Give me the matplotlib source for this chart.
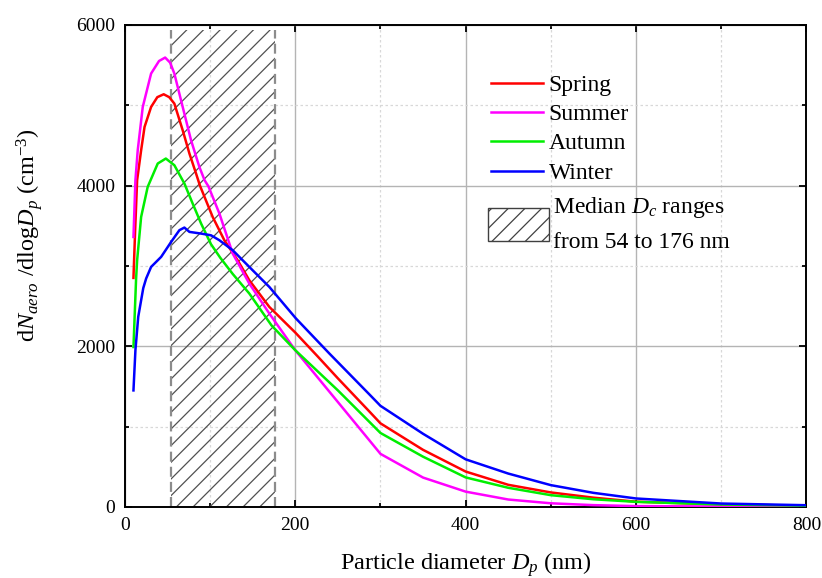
import matplotlib
matplotlib.use("Agg")
import matplotlib.pyplot as plt
from matplotlib.patches import Rectangle, Patch
from matplotlib.ticker import MultipleLocator

plt.rcParams["font.family"] = "Liberation Serif"
plt.rcParams["mathtext.fontset"] = "custom"
plt.rcParams["mathtext.rm"] = "Liberation Serif"
plt.rcParams["mathtext.it"] = "Liberation Serif:italic"
plt.rcParams["hatch.linewidth"] = 0.9

# particle size distributions
spring_x = [10, 12, 14.3, 19, 23, 30.7, 38, 45.5, 52, 58, 67.8, 75.7, 83.5, 88, 103, 116.7,
            132.3, 146, 169.5, 200, 226, 250, 287, 300, 350, 400, 450, 500, 550, 600, 700, 800]
spring_y = [2850, 3450, 4066, 4439, 4729, 4978, 5100, 5136, 5100, 5020, 4688, 4398, 4149, 4000,
            3609, 3319, 3070, 2821, 2489, 2170, 1876, 1600, 1187, 1040, 710, 440, 275, 180, 115,
            65, 30, 15]

summer_x = [10, 12.3, 15, 20.9, 30.7, 40, 47.2, 53, 58, 67.8, 77.6, 87.4, 93.5, 98, 110.9,
            126.5, 146, 169.5, 200, 250, 287, 300, 350, 400, 450, 500, 550, 600, 700, 800]
summer_y = [3360, 4066, 4439, 4978, 5394, 5550, 5593, 5530, 5394, 4978, 4564, 4231, 4066, 3990,
            3651, 3154, 2780, 2407, 1950, 1305, 828, 660, 365, 190, 92, 45, 22, 10, 5, 3]

autumn_x = [10, 13.1, 14.3, 19, 26.7, 38.5, 48, 58, 69.8, 79.5, 89.4, 101, 112, 126.5, 146,
            172, 200, 250, 287, 300, 350, 400, 450, 500, 550, 600, 700, 800]
autumn_y = [1990, 2843, 3070, 3609, 3983, 4274, 4336, 4253, 4025, 3776, 3527, 3270, 3100, 2900,
            2656, 2260, 1950, 1450, 1058, 920, 625, 367, 238, 146, 95, 63, 30, 15]

winter_x = [10, 12.3, 15.6, 21.5, 24.9, 30.7, 42.5, 54.2, 63.9, 69.8, 75.7, 89.4, 101, 110.9,
            126.5, 146, 169.5, 200.8, 240, 287, 300, 350, 400, 450, 500, 550, 600, 700, 800]
winter_y = [1450, 1950, 2366, 2723, 2843, 2987, 3112, 3298, 3444, 3477, 3423, 3402, 3381, 3319,
            3195, 2987, 2738, 2345, 1909, 1400, 1258, 910, 592, 415, 271, 175, 105, 42, 21]

dc_low, dc_high = 54, 176
dc_top = 5940

fig, ax = plt.subplots(figsize=(8.22, 5.78), dpi=100)
fig.subplots_adjust(left=0.152, right=0.981, bottom=0.123, top=0.957)

ax.set_xlim(0, 800)
ax.set_ylim(0, 6000)
ax.xaxis.set_major_locator(MultipleLocator(200))
ax.xaxis.set_minor_locator(MultipleLocator(100))
ax.yaxis.set_major_locator(MultipleLocator(2000))
ax.yaxis.set_minor_locator(MultipleLocator(1000))
ax.grid(which="major", color="#b4b4b4", lw=1.0)
ax.grid(which="minor", color="#d8d8d8", lw=0.9, ls=(0, (2, 2)))
ax.set_axisbelow(True)
ax.tick_params(which="both", direction="in", top=True, right=True, labelsize=14, width=1.3)
ax.tick_params(which="major", length=5, pad=7)
ax.tick_params(which="minor", length=3)
for sp in ax.spines.values():
    sp.set_linewidth(1.4)

# median Dc range
ax.add_patch(Rectangle((dc_low, 0), dc_high - dc_low, dc_top, fill=False, hatch="//",
                       edgecolor="#505050", lw=0, zorder=1))
ax.vlines([dc_low, dc_high], 0, dc_top, colors="#8c8c8c", lw=1.6,
          linestyles=(0, (4.5, 2.3)), zorder=1)

ax.plot(spring_x, spring_y, color="#ff0000", lw=1.8, label="Spring", zorder=3)
ax.plot(summer_x, summer_y, color="#ff00ff", lw=1.8, label="Summer", zorder=3)
ax.plot(autumn_x, autumn_y, color="#00ee00", lw=1.8, label="Autumn", zorder=3)
ax.plot(winter_x, winter_y, color="#0000ff", lw=1.8, label="Winter", zorder=3)

leg1 = ax.legend(loc="upper left", bbox_to_anchor=(0.523, 0.917), frameon=False, fontsize=17,
                 handlelength=2.2, handletextpad=0.25, labelspacing=0.33, borderaxespad=0)
ax.add_artist(leg1)
hatch_handle = Patch(facecolor="white", edgecolor="#404040", hatch="//", lw=1)
leg2 = ax.legend([hatch_handle], ["Median $D_c$ ranges\nfrom 54 to 176 nm"], loc="upper left",
                 bbox_to_anchor=(0.519, 0.666), frameon=False, fontsize=17, handlelength=2.6,
                 handleheight=1.8, handletextpad=0.15, borderaxespad=0)
leg2.get_texts()[0].set_linespacing(1.75)

ax.set_xlabel("Particle diameter $D_p$ (nm)", fontsize=17.5, labelpad=12)
ax.set_ylabel("d$N_{aero}$ /dlog$D_p$ (cm$^{-3}$)", fontsize=17.5)
ax.yaxis.set_label_coords(-0.118, 0.565)

plt.savefig("out.png")
